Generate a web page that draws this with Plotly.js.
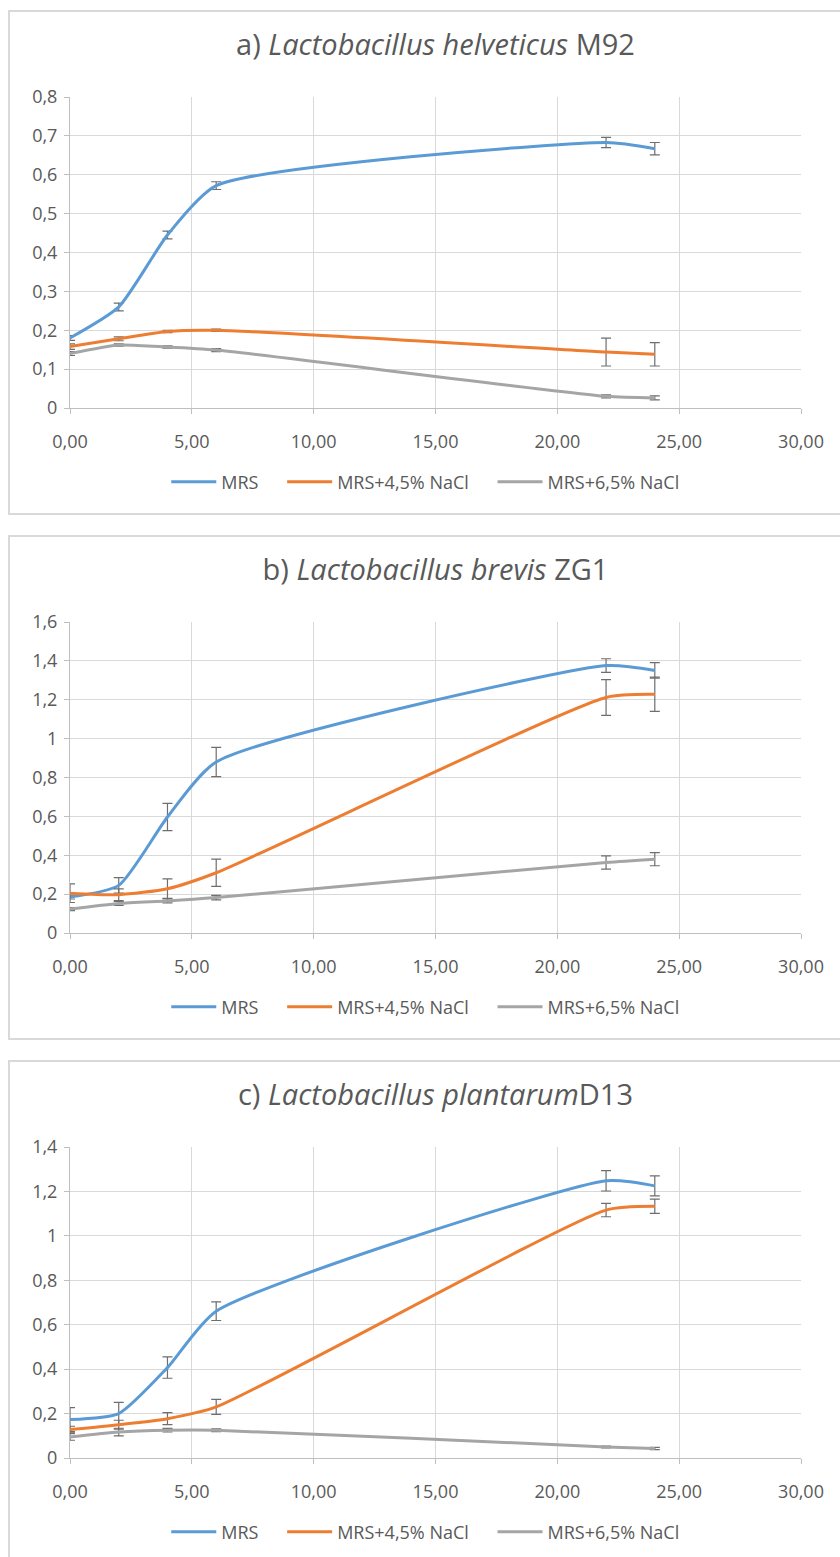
<!DOCTYPE html>
<html>
<head>
<meta charset="utf-8">
<script src="https://cdn.plot.ly/plotly-3.0.1.min.js"></script>
<style>
  html, body { margin:0; padding:0; background:#fff; width:840px; height:1557px; overflow:hidden; }
  .panel { position:absolute; left:0; width:840px; height:525px; }
  .frame { position:absolute; left:8px; top:10px; width:900px; height:501px; border:2px solid #d9d9d9; box-sizing:content-box; }
  .plot { position:absolute; left:0; top:0; width:840px; height:525px; }
</style>
</head>
<body>
<div class="panel" style="top:0px"><div class="frame"></div><div id="pa" class="plot"></div></div>
<div class="panel" style="top:525px"><div class="frame"></div><div id="pb" class="plot"></div></div>
<div class="panel" style="top:1050px"><div class="frame" style="height:520px"></div><div id="pc" class="plot"></div></div>
<script>
// time (h)
const hours = [0, 2, 4, 6, 22, 24];
const seriesNames = ['MRS', 'MRS+4,5% NaCl', 'MRS+6,5% NaCl'];

// a) Lactobacillus helveticus M92
const mrsA    = [0.180, 0.260, 0.445, 0.572, 0.683, 0.667];
const mrsAErr = [0.006, 0.010, 0.010, 0.010, 0.013, 0.016];
const nacl45A    = [0.158, 0.178, 0.197, 0.200, 0.144, 0.138];
const nacl45AErr = [0.007, 0.005, 0.003, 0.003, 0.036, 0.030];
const nacl65A    = [0.140, 0.162, 0.157, 0.149, 0.030, 0.026];
const nacl65AErr = [0.005, 0.003, 0.003, 0.004, 0.004, 0.005];

// b) Lactobacillus brevis ZG1
const mrsB    = [0.185, 0.245, 0.597, 0.880, 1.376, 1.351];
const mrsBErr = [0.010, 0.040, 0.070, 0.075, 0.035, 0.040];
const nacl45B    = [0.205, 0.197, 0.228, 0.310, 1.212, 1.228];
const nacl45BErr = [0.048, 0.030, 0.050, 0.070, 0.092, 0.088];
const nacl65B    = [0.123, 0.152, 0.165, 0.182, 0.363, 0.380];
const nacl65BErr = [0.008, 0.010, 0.010, 0.012, 0.034, 0.034];

// c) Lactobacillus plantarum D13
const mrsC    = [0.173, 0.200, 0.407, 0.661, 1.248, 1.225];
const mrsCErr = [0.054, 0.050, 0.048, 0.042, 0.046, 0.045];
const nacl45C    = [0.128, 0.150, 0.177, 0.230, 1.116, 1.133];
const nacl45CErr = [0.015, 0.020, 0.027, 0.034, 0.030, 0.032];
const nacl65C    = [0.095, 0.117, 0.125, 0.125, 0.050, 0.043];
const nacl65CErr = [0.015, 0.017, 0.008, 0.006, 0.004, 0.005];

const titles = [
  'a) <i>Lactobacillus helveticus</i> M92',
  'b) <i>Lactobacillus brevis</i> ZG1',
  'c) <i>Lactobacillus plantarum</i>D13'
];
const yMax = [0.8, 1.6, 1.4];
const yStep = [0.1, 0.2, 0.2];

const colors = ['#5B9BD5', '#ED7D31', '#A5A5A5'];
const FONT = 'Open Sans, sans-serif';
const TXT = '#595959';
const NB = '\u00a0';
const legendPad = [NB.repeat(4), NB.repeat(4), ''];

function makeTraces(vals, errs) {
  return vals.map((v, i) => ({
    x: hours, y: v, name: seriesNames[i] + legendPad[i], type: 'scatter', mode: 'lines',
    line: { color: colors[i], width: 3, shape: 'spline', smoothing: 0.6 },
    error_y: { type: 'data', array: errs[i], visible: true, color: '#6e6e6e', thickness: 1.2, width: 5 }
  }));
}

function makeLayout(k) {
  return {
    width: 840, height: 525,
    margin: { l: 70, r: 39, t: 97, b: 117 },
    paper_bgcolor: 'rgba(0,0,0,0)', plot_bgcolor: 'rgba(0,0,0,0)',
    separators: ', ',
    font: { family: FONT, color: TXT, size: 18 },
    title: { text: titles[k], font: { family: FONT, size: 29, color: TXT },
             x: 0.5, xref: 'paper', xanchor: 'center', y: 1 - 45/525, yref: 'container', yanchor: 'middle' },
    showlegend: true,
    legend: { orientation: 'h', x: 0.486, xanchor: 'center', y: -0.238, yanchor: 'middle',
              font: { family: FONT, size: 18, color: TXT }, itemwidth: 45, traceorder: 'normal' },
    xaxis: { range: [0, 30], dtick: 5, tick0: 0, tickformat: '.2f', showgrid: true, gridcolor: '#d9d9d9', gridwidth: 1,
             showline: true, linecolor: '#bfbfbf', linewidth: 1, ticks: 'outside', ticklen: 5, tickcolor: '#bfbfbf',
             ticklabelstandoff: 12,
             zeroline: false, tickfont: { family: FONT, size: 18, color: TXT }, fixedrange: true },
    yaxis: { range: [0, yMax[k]], dtick: yStep[k], tick0: 0, showgrid: true, gridcolor: '#d9d9d9', gridwidth: 1,
             showline: true, linecolor: '#bfbfbf', linewidth: 1, ticks: 'outside', ticklen: 5, tickcolor: '#bfbfbf',
             ticklabelstandoff: 3,
             zeroline: false, tickfont: { family: FONT, size: 18, color: TXT }, fixedrange: true }
  };
}

const cfg = { staticPlot: true, displayModeBar: false };
Plotly.newPlot('pa', makeTraces([mrsA, nacl45A, nacl65A], [mrsAErr, nacl45AErr, nacl65AErr]), makeLayout(0), cfg);
Plotly.newPlot('pb', makeTraces([mrsB, nacl45B, nacl65B], [mrsBErr, nacl45BErr, nacl65BErr]), makeLayout(1), cfg);
Plotly.newPlot('pc', makeTraces([mrsC, nacl45C, nacl65C], [mrsCErr, nacl45CErr, nacl65CErr]), makeLayout(2), cfg);
</script>
</body>
</html>
